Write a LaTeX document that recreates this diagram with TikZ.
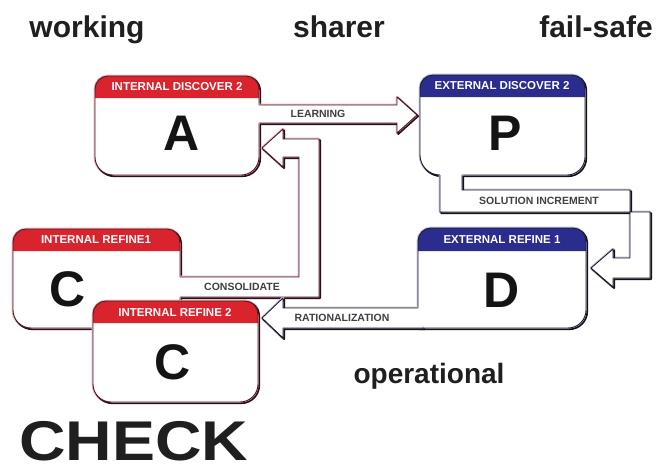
\documentclass[tikz,border=0pt]{standalone}
\usepackage{fontspec}
\usepackage{graphicx}
\setmainfont{Liberation Sans}

% outline of a panel: left, top, right, bottom, bottom-left radius, bottom-right radius
\newcommand{\boxpath}[6]{(#1,#2+13) arc[start angle=180,end angle=270,radius=13] -- (#3-13,#2) arc[start angle=270,end angle=360,radius=13] -- (#3,#4-#6) arc[start angle=0,end angle=90,radius=#6] -- (#1+#5,#4) arc[start angle=90,end angle=180,radius=#5] -- cycle}
% coloured title strip: left, top, right, strip bottom
\newcommand{\headpath}[4]{(#1,#4) -- (#1,#2+13) arc[start angle=180,end angle=270,radius=13] -- (#3-13,#2) arc[start angle=270,end angle=360,radius=13] -- (#3,#4) -- cycle}
% panel: l, t, r, b, strip bottom, bl radius, br radius, theme
\newcommand{\panel}[8]{%
  \draw[#8halo] \boxpath{#1}{#2}{#3}{#4}{#6}{#7};
  \draw[#8shadow, shift={(1.3,1.3)}] \boxpath{#1}{#2}{#3}{#4}{#6}{#7};
  \fill[white] \boxpath{#1}{#2}{#3}{#4}{#6}{#7};
  \fill[#8head] \headpath{#1}{#2}{#3}{#5};
  \draw[#8line] \boxpath{#1}{#2}{#3}{#4}{#6}{#7};
}
% block arrow: theme, open outline, closed fill outline
\newcommand{\blockarrow}[3]{%
  \draw[#1halo] #2;
  \draw[#1shadow, shift={(1.2,1.2)}] #2;
  \fill[white] #3;
  \draw[#1line] #2;
}

\definecolor{hdrred}{HTML}{D9232D}
\definecolor{hdrblue}{HTML}{2A2C8E}

\begin{document}
\begin{tikzpicture}[x=1pt,y=-1pt,
  redhalo/.style={draw={rgb,255:red,242;green,184;blue,192}, line width=2.8pt, line join=round},
  redshadow/.style={draw={rgb,255:red,46;green,14;blue,20}, line width=1.6pt, line join=round},
  redline/.style={draw={rgb,255:red,74;green,24;blue,34}, line width=0.9pt, line join=round},
  redhead/.style={fill=hdrred},
  bluehalo/.style={draw={rgb,255:red,196;green,200;blue,220}, line width=2.8pt, line join=round},
  blueshadow/.style={draw={rgb,255:red,18;green,18;blue,24}, line width=1.6pt, line join=round},
  blueline/.style={draw={rgb,255:red,28;green,28;blue,48}, line width=0.9pt, line join=round},
  bluehead/.style={fill=hdrblue},
  hdr/.style={text=white, font=\bfseries\fontsize{11.5}{12}\selectfont, inner sep=0pt},
  letter/.style={text=black!92, font=\bfseries\fontsize{50}{50}\selectfont, inner sep=0pt},
  word/.style={text=black!88, font=\bfseries\fontsize{30}{30}\selectfont, inner sep=0pt, anchor=base},
  lbl/.style={text=black!75, font=\bfseries\fontsize{10.5}{11}\selectfont, inner sep=0pt}
]
\useasboundingbox (0,0) rectangle (659,472);
\fill[white] (0,0) rectangle (659,472);

% panels
\panel{95}{76}{259}{175}{98}{18}{18}{red}
\panel{420}{75}{585}{175}{97}{20}{18}{blue}
\panel{13}{229}{180}{328}{251}{18}{18}{red}
\panel{93}{301}{258}{402}{323}{18}{18}{red}
\panel{418}{228}{586}{328}{251}{0.1}{18}{blue}

% LEARNING
\blockarrow{red}
  {(259,105) -- (397,105) -- (397,97) -- (417,115) -- (397,133) -- (397,123) -- (259,123)}
  {(255,105) -- (397,105) -- (397,97) -- (417,115) -- (397,133) -- (397,123) -- (255,123) -- cycle}
% CONSOLIDATE
\blockarrow{red}
  {(180,277) -- (299,277) -- (299,157) -- (283,157) -- (283,167) -- (262,148) -- (283,129) -- (283,139) -- (319,139) -- (319,297) -- (180,297)}
  {(176,277) -- (299,277) -- (299,157) -- (283,157) -- (283,167) -- (262,148) -- (283,129) -- (283,139) -- (319,139) -- (319,297) -- (176,297) -- cycle}
% SOLUTION INCREMENT
\blockarrow{blue}
  {(440,175) -- (440,212) -- (650,212) -- (650,278) -- (613,278) -- (613,287) -- (591,268) -- (613,249) -- (613,258) -- (630,258) -- (630,190) -- (462,190) -- (462,175)}
  {(440,171) -- (440,212) -- (650,212) -- (650,278) -- (613,278) -- (613,287) -- (591,268) -- (613,249) -- (613,258) -- (630,258) -- (630,190) -- (462,190) -- (462,171) -- cycle}
% RATIONALIZATION
\blockarrow{blue}
  {(418,308) -- (283,308) -- (283,298) -- (262,318) -- (283,338) -- (283,328) -- (424,328)}
  {(422,308) -- (283,308) -- (283,298) -- (262,318) -- (283,338) -- (283,328) -- (422,328) -- cycle}

% strip titles
\node[hdr] (hA) at (177,87) {INTERNAL DISCOVER 2};
\node[hdr] (hP) at (502,86) {EXTERNAL DISCOVER 2};
\node[hdr] (hR1) at (96,240) {INTERNAL REFINE1};
\node[hdr] (hR2) at (175,312) {INTERNAL REFINE 2};
\node[hdr] (hD) at (502,240) {EXTERNAL REFINE 1};

% panel letters
\node[letter] (A) at (182,133) {A};
\node[letter] (P) at (505,133) {P};
\node[letter] (C1) at (68,289) {C};
\node[letter] (C2) at (173,362) {C};
\node[letter] (D) at (502,290) {D};

% arrow labels
\node[lbl] (lLearn) at (318,114) {LEARNING};
\node[lbl] (lCons) at (242,287) {CONSOLIDATE};
\node[lbl] (lSol) at (539,201) {SOLUTION INCREMENT};
\node[lbl] (lRat) at (342,318) {RATIONALIZATION};

% captions
\node[word] (working) at (87,37) {working};
\node[word] (sharer) at (339,37) {sharer};
\node[word] (failsafe) at (596,37) {fail-safe};
\node[word, font=\bfseries\fontsize{28}{28}\selectfont] (operational) at (429,383) {operational};
\node[word, anchor=base west, font=\bfseries\fontsize{56}{56}\selectfont] (check) at (19,460) {\scalebox{1.15}[1]{CHECK}};
\end{tikzpicture}
\end{document}
